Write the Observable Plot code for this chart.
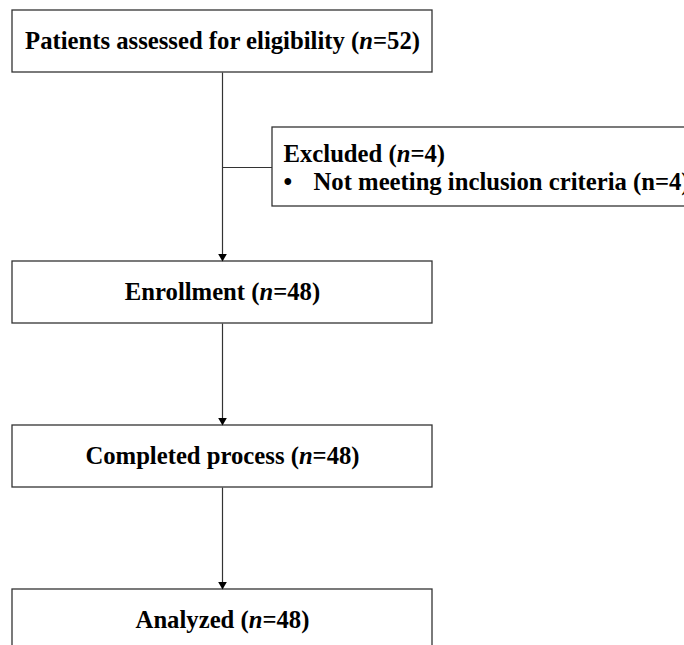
<!DOCTYPE html>
<html><head><meta charset="utf-8">
<script src="https://cdn.jsdelivr.net/npm/d3@7"></script>
<script src="https://cdn.jsdelivr.net/npm/@observablehq/plot@0.6"></script>
<style>
html,body{margin:0;padding:0;background:#fff;overflow:hidden}
</style>
</head><body><div id="chart"></div>
<script>
// ---- data ----
const stages = ["Patients assessed for eligibility", "Enrollment", "Completed process", "Analyzed"];
const stageCounts = [52, 48, 48, 48];
const excludedLabel = "Excluded";
const excludedCount = 4;
const exclusionReasons = ["Not meeting inclusion criteria"];
const exclusionCounts = [4];

// ---- layout (pixels) ----
const W = 684, H = 645;
const boxX1 = 12, boxX2 = 432, boxH = 62, gap = 102, exclSpace = 87;
const cx = (boxX1 + boxX2) / 2;
const topOf = i => 10 + i * (boxH + gap) + (i > 0 ? exclSpace : 0);
const excl = {x1: 272, x2: 720, y1: 127, y2: 206, branchY: 167};

const mainBoxes = stages.map((s, i) => ({
  x1: boxX1, x2: boxX2, y1: topOf(i), y2: topOf(i) + boxH,
  label: `${s} (n=${stageCounts[i]})`, tx: cx, ty: topOf(i) + boxH / 2
}));
const boxes = [...mainBoxes, {x1: excl.x1, x2: excl.x2, y1: excl.y1, y2: excl.y2}];

const links = [];
for (let i = 0; i < stages.length - 1; i++) {
  links.push({x1: cx, y1: mainBoxes[i].y2, x2: cx, y2: mainBoxes[i + 1].y1 - 4});
}
links.push({x1: cx, y1: excl.branchY, x2: excl.x1, y2: excl.branchY});
const heads = mainBoxes.slice(1).map(b => ({x: cx, y: b.y1}));

const leftTexts = [
  {x: 283, y: 154, text: `${excludedLabel} (n=${excludedCount})`},
  ...exclusionReasons.map((r, i) => ({x: 283, y: 182 + i * 27, text: "•"})),
  ...exclusionReasons.map((r, i) => ({x: 313, y: 182 + i * 27, text: `${r} (n=${exclusionCounts[i]})`}))
];

const font = {fontFamily: "Liberation Serif", fontWeight: "bold", fontSize: 24.7, fill: "#000"};

const chart = Plot.plot({
  width: W, height: H,
  margin: 0,
  x: {type: "identity"},
  y: {type: "identity"},
  axis: null,
  marks: [
    Plot.link(links, {x1: "x1", y1: "y1", x2: "x2", y2: "y2", stroke: "#333", strokeWidth: 1.2}),
    Plot.rect(boxes, {x1: "x1", x2: "x2", y1: "y1", y2: "y2", fill: "white", stroke: "#333", strokeWidth: 1.3}),
    Plot.dot(heads, {x: "x", y: "y", symbol: "triangle", rotate: 180, r: 3.2, fill: "#000", stroke: "none", dy: -5}),
    Plot.text(mainBoxes, {x: "tx", y: "ty", text: "label", textAnchor: "middle", ...font}),
    Plot.text(leftTexts, {x: "x", y: "y", text: "text", textAnchor: "start", ...font})
  ]
});

// italicize the "n" in stage / excluded labels
const italicSet = new Set([...mainBoxes.map(b => b.label), `${excludedLabel} (n=${excludedCount})`]);
d3.select(chart).selectAll("text").each(function() {
  const t = this.textContent;
  if (!italicSet.has(t)) return;
  const m = t.match(/^(.*\()n(=.*)$/);
  if (!m) return;
  const sel = d3.select(this);
  sel.text(null);
  sel.append("tspan").text(m[1]);
  sel.append("tspan").attr("font-style", "italic").text("n");
  sel.append("tspan").text(m[2]);
});

document.getElementById("chart").appendChild(chart);
</script>
</body></html>
